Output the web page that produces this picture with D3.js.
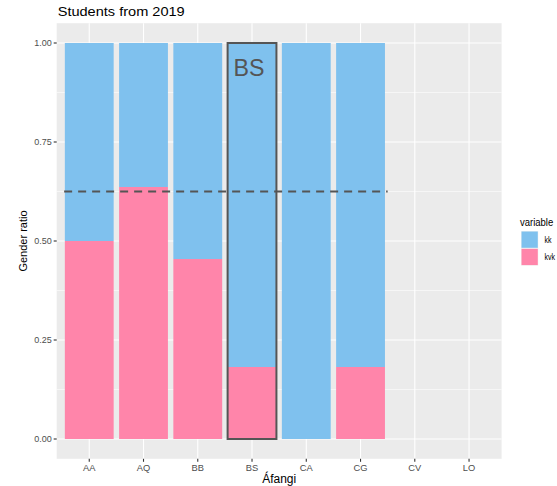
<!DOCTYPE html>
<html><head><meta charset="utf-8">
<script src="https://cdn.jsdelivr.net/npm/d3@7"></script>
<style>body{margin:0;background:#fff;overflow:hidden}svg{display:block}text{font-family:"Liberation Sans",Arial,sans-serif}</style>
</head><body><svg id="c" width="557" height="486"></svg>
<script>
const categories = ["AA","AQ","BB","BS","CA","CG","CV","LO"];
const kvkValues = [0.5, 0.6364, 0.4545, 0.1818, 0, 0.1818, null, null];
const kkValues  = [0.5, 0.3636, 0.5455, 0.8182, 1, 0.8182, null, null];
const yTicks = [0, 0.25, 0.5, 0.75, 1];
const yMinor = [0.125, 0.375, 0.625, 0.875];
const refLine = 0.625;
const highlight = "BS";
const seriesNames = ["kk","kvk"];
const colors = {kk:"#7fc1ee", kvk:"#ff85aa"};

const svg = d3.select("#c");
const pl=56.7, pr=501.6, pt=23.2, pb=458.8;
const n = categories.length;
const xi = d3.scaleLinear().domain([0.4, n+0.6]).range([pl, pr]);
const y = d3.scaleLinear().domain([-0.05, 1.05]).range([pb, pt]);
const xb = d3.scaleBand().domain(categories).range([xi(0.5), xi(n+0.5)]).paddingInner(0.1).paddingOuter(0.05);

svg.append("rect").attr("x",pl).attr("y",pt).attr("width",pr-pl).attr("height",pb-pt).attr("fill","#ebebeb");
const g = svg.append("g");
yMinor.forEach(v=>g.append("line").attr("x1",pl).attr("x2",pr).attr("y1",y(v)).attr("y2",y(v)).attr("stroke","#fff").attr("stroke-width",0.55));
yTicks.forEach(v=>g.append("line").attr("x1",pl).attr("x2",pr).attr("y1",y(v)).attr("y2",y(v)).attr("stroke","#fff").attr("stroke-width",1.1));
categories.forEach((c,i)=>g.append("line").attr("x1",xi(i+1)).attr("x2",xi(i+1)).attr("y1",pt).attr("y2",pb).attr("stroke","#fff").attr("stroke-width",1.1));

categories.forEach((c,i)=>{
  if(kvkValues[i]==null) return;
  const x0 = xb(c), bw = xb.bandwidth();
  const a = kvkValues[i], b = kkValues[i];
  if(a>0) svg.append("rect").attr("x",x0).attr("width",bw).attr("y",y(a)).attr("height",y(0)-y(a)).attr("fill",colors.kvk);
  if(b>0) svg.append("rect").attr("x",x0).attr("width",bw).attr("y",y(a+b)).attr("height",y(a)-y(a+b)).attr("fill",colors.kk);
});

svg.append("line").attr("x1",xi(0.5)).attr("x2",xi(6.5)).attr("y1",y(refLine)).attr("y2",y(refLine))
  .attr("stroke","#555").attr("stroke-width",2).attr("stroke-dasharray","8,6").attr("stroke-dashoffset",-2);

const hb = xb(highlight);
svg.append("rect").attr("x",hb).attr("y",y(1)).attr("width",xb.bandwidth()).attr("height",y(0)-y(1))
  .attr("fill","none").attr("stroke","#555").attr("stroke-width",2);
svg.append("text").attr("x",hb+xb.bandwidth()/2-3).attr("y",y(1)+33).attr("text-anchor","middle")
  .attr("font-size",23).attr("fill","#555").attr("textLength",31).attr("lengthAdjust","spacingAndGlyphs").text(highlight);

yTicks.forEach(v=>{
  svg.append("line").attr("x1",pl-3).attr("x2",pl).attr("y1",y(v)).attr("y2",y(v)).attr("stroke","#333").attr("stroke-width",1.1);
  svg.append("text").attr("x",pl-5).attr("y",y(v)+3.2).attr("text-anchor","end").attr("font-size",9).attr("fill","#4d4d4d").text(d3.format(".2f")(v));
});
categories.forEach((c,i)=>{
  svg.append("line").attr("x1",xi(i+1)).attr("x2",xi(i+1)).attr("y1",pb).attr("y2",pb+3).attr("stroke","#333").attr("stroke-width",1.1);
  svg.append("text").attr("x",xi(i+1)).attr("y",pb+12.5).attr("text-anchor","middle").attr("font-size",9.3).attr("fill","#4d4d4d").text(c);
});
svg.append("text").attr("x",(pl+pr)/2).attr("y",pb+24.5).attr("text-anchor","middle").attr("font-size",12).attr("fill","#000").text("Áfangi");
svg.append("text").attr("transform",`translate(26.5,${(pt+pb)/2}) rotate(-90)`).attr("text-anchor","middle").attr("font-size",11).attr("fill","#000").text("Gender ratio");
svg.append("text").attr("x",pl+1).attr("y",16).attr("font-size",13.5).attr("fill","#000")
  .attr("textLength",127).attr("lengthAdjust","spacingAndGlyphs").text("Students from 2019");

svg.append("text").attr("transform","translate(520,226) scale(0.88,1)").attr("font-size",10.8).attr("fill","#000").text("variable");
seriesNames.forEach((s,i)=>{
  svg.append("rect").attr("x",521).attr("y",231+i*17.3).attr("width",17.3).attr("height",17.3).attr("fill","#f2f2f2");
  svg.append("rect").attr("x",521.5).attr("y",231.5+i*17.3).attr("width",16.3).attr("height",16.3).attr("fill",colors[s]);
  svg.append("text").attr("transform",`translate(544.5,${243+i*17.3}) scale(0.8,1)`).attr("font-size",8.8).attr("fill","#000").text(s);
});
</script></body></html>
